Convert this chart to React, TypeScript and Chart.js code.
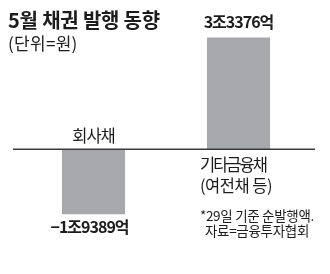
import React, { useEffect, useRef } from "react";
import { Chart, registerables } from "chart.js";

Chart.register(...registerables);

const categories: string[][] = [["회사채"], ["기타금융채", "(여전채 등)"]];
const values: number[] = [-1.9389, 3.3376]; // 조원
const valueLabels: string[] = ["−1조9389억", "3조3376억"];
const titleText = "5월 채권 발행 동향";
const unitText = "(단위=원)";
const noteLines: string[] = ["*29일 기준 순발행액.", "자료=금융투자협회"];

const FONT = '"Noto Sans CJK KR", "Noto Sans", sans-serif';
const BAR = "#a7a8ab";
const INK = "#1c1c1c";

const labelPlugin = {
  id: "labels",
  afterDatasetsDraw(chart: any) {
    const { ctx, chartArea, scales } = chart;
    const y0 = scales.y.getPixelForValue(0);
    ctx.save();
    ctx.strokeStyle = "#3a3a3a";
    ctx.lineWidth = 1.5;
    ctx.beginPath();
    ctx.moveTo(chartArea.left - 8, y0);
    ctx.lineTo(chartArea.right + 4, y0);
    ctx.stroke();

    const meta = chart.getDatasetMeta(0);
    meta.data.forEach((bar: any, i: number) => {
      const v = values[i];
      ctx.fillStyle = INK;
      ctx.textBaseline = "alphabetic";
      ctx.font = `700 16px ${FONT}`;
      ctx.letterSpacing = "-1px";
      ctx.textAlign = "center";
      if (v >= 0) {
        ctx.fillText(valueLabels[i], bar.x, bar.y - 9);
      } else {
        ctx.fillText(valueLabels[i], bar.x - 4, bar.y + 19);
      }
      ctx.font = `400 16.5px ${FONT}`;
      const lines = categories[i];
      if (v < 0) {
        ctx.letterSpacing = "-1px";
        ctx.textAlign = "center";
        ctx.fillText(lines[0], bar.x, y0 - 7);
      } else {
        ctx.textAlign = "left";
        const left = bar.x - bar.width / 2 - 7;
        lines.forEach((ln, k) => {
          ctx.letterSpacing = k === 0 ? "-2px" : "-0.5px";
          ctx.fillText(ln, left, y0 + 21.5 + k * 21);
        });
      }
    });
    ctx.restore();
  },
};

export default function App() {
  const ref = useRef<HTMLCanvasElement | null>(null);
  useEffect(() => {
    if (!ref.current) return;
    const chart = new Chart(ref.current, {
      type: "bar",
      data: {
        labels: categories.map((c) => c.join(" ")),
        datasets: [
          {
            data: values,
            backgroundColor: BAR,
            borderWidth: 0,
            categoryPercentage: 0.5,
            barPercentage: 0.87,
          },
        ],
      },
      options: {
        animation: false,
        responsive: false,
        maintainAspectRatio: false,
        layout: { padding: { top: 32, bottom: 41, left: 21, right: 19 } },
        scales: {
          x: { display: false },
          y: { display: false, min: -2.5, max: 3.5 },
        },
        plugins: {
          legend: { display: false },
          tooltip: { enabled: false },
          title: { display: false },
        },
      },
      plugins: [labelPlugin],
    });
    return () => chart.destroy();
  }, []);

  return (
    <div
      style={{
        position: "absolute",
        left: 0,
        top: 0,
        width: 330,
        height: 274,
        background: "#fff",
        fontFamily: FONT,
        color: INK,
      }}
    >
      <canvas ref={ref} width={330} height={274} style={{ position: "absolute", left: 0, top: 0 }} />
      <div
        style={{
          position: "absolute",
          left: 8,
          top: 9,
          fontSize: 20,
          fontWeight: 700,
          lineHeight: "22px",
          letterSpacing: "-0.2px",
          whiteSpace: "nowrap",
        }}
      >
        {titleText}
      </div>
      <div
        style={{
          position: "absolute",
          left: 8,
          top: 33,
          fontSize: 17,
          lineHeight: "19px",
          letterSpacing: "0.3px",
          whiteSpace: "nowrap",
        }}
      >
        {unitText}
      </div>
      <div
        style={{
          position: "absolute",
          left: 187,
          top: 208,
          width: 140,
          textAlign: "center",
          fontSize: 13.5,
          lineHeight: "15px",
          letterSpacing: "-0.3px",
          whiteSpace: "nowrap",
        }}
      >
        {noteLines.map((l, i) => (
          <div key={i}>{l}</div>
        ))}
      </div>
    </div>
  );
}
